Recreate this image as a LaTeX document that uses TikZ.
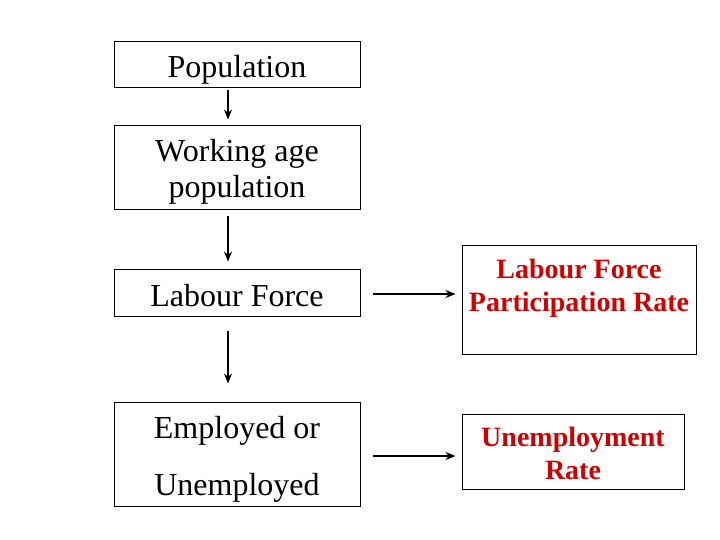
\documentclass[tikz,border=0pt]{standalone}
\usepackage{fontspec}
\setmainfont{Liberation Serif}
\usepackage{xcolor}
\usetikzlibrary{positioning}
\usetikzlibrary{arrows.meta,calc}
\definecolor{ratered}{RGB}{208,0,0}
\tikzstyle{box} = [rectangle, draw=black, line width=1bp]
\tikzstyle{boxtext} = [align=center, font=\fontsize{32bp}{36bp}\selectfont]
\tikzstyle{ratetext} = [align=center, text=ratered, font=\fontsize{28bp}{33bp}\selectfont\bfseries]
\tikzstyle{arrow} = [line width=1.3bp,-{Stealth[length=10bp,width=8bp]}]

\begin{document}
\begin{tikzpicture}[x=1bp,y=-1bp]
\useasboundingbox (0,0) rectangle (720,540);
% left column
\draw (237,65) node (pop) [box, minimum width=246bp, minimum height=46bp] {};
\draw (237,70) node (poptext) [boxtext] {Population};
\draw (237,168) node (wap) [box, minimum width=246bp, minimum height=84bp] {};
\draw (237,172) node (waptext) [boxtext] {Working age\\population};
\draw (237,293) node (lf) [box, minimum width=246bp, minimum height=46bp] {};
\draw (237,296) node (lftext) [boxtext] {Labour Force};
\draw (237,454) node (emp) [box, minimum width=246bp, minimum height=104bp] {};
\draw (237,459) node (emptext) [boxtext, font=\fontsize{32bp}{57bp}\selectfont] {Employed or\\Unemployed};
% right column
\draw (579,300) node (lfpr) [box, minimum width=234bp, minimum height=108bp] {};
\draw (579,288) node (lfprtext) [ratetext] {Labour Force\\Participation Rate};
\draw (573,451.5) node (ur) [box, minimum width=222bp, minimum height=75bp] {};
\draw (573,453) node (urtext) [ratetext] {Unemployment\\Rate};
% arrows
\draw [arrow, shorten <=2bp, shorten >=6bp] ([xshift=-9bp]pop.south) -- ([xshift=-9bp]wap.north);
\draw [arrow, shorten <=6bp, shorten >=8bp] ([xshift=-9bp]wap.south) -- ([xshift=-9bp]lf.north);
\draw [arrow, shorten <=14bp, shorten >=18bp] ([xshift=-9bp]lf.south) -- ([xshift=-9bp]emp.north);
\draw [arrow, shorten <=12bp, shorten >=6bp] ([yshift=-1bp]lf.east) -- ([yshift=-1bp]lf.east -| lfpr.west);
\draw [arrow, shorten <=12bp, shorten >=6bp] ([yshift=-2bp]emp.east) -- ([yshift=-2bp]emp.east -| ur.west);
\end{tikzpicture}
\end{document}
